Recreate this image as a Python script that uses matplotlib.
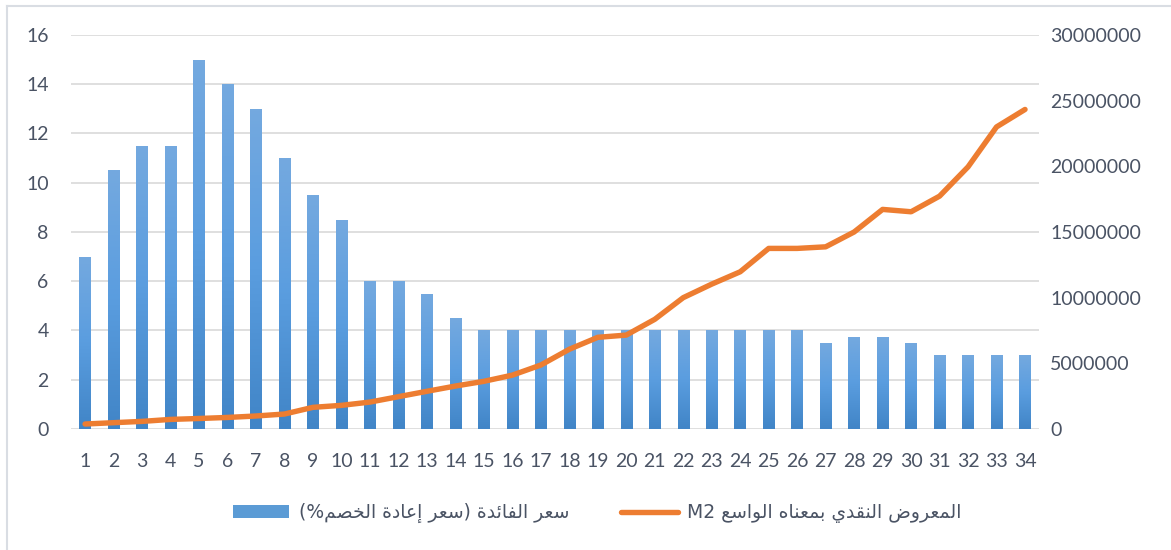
import matplotlib
matplotlib.use('Agg')
import matplotlib.pyplot as plt
import matplotlib.ticker as ticker
from matplotlib.colors import LinearSegmentedColormap
from matplotlib.lines import Line2D
import numpy as np

plt.rcParams['font.family'] = ['Lato', 'DejaVu Sans']

years = [str(i) for i in range(1, 35)]
interest_rate = [7, 10.5, 11.5, 11.5, 15, 14, 13, 11, 9.5, 8.5,
                 6, 6, 5.5, 4.5, 4, 4, 4, 4, 4, 4,
                 4, 4, 4, 4, 4, 4, 3.5, 3.75, 3.75, 3.5,
                 3, 3, 3, 3]
money_supply = [380000, 480000, 580000, 730000, 800000, 880000, 990000, 1140000,
                1650000, 1800000, 2050000, 2460000, 2870000, 3270000, 3630000,
                4100000, 4870000, 6070000, 6980000, 7150000, 8350000, 10000000,
                11030000, 11970000, 13750000, 13750000, 13870000, 15000000,
                16720000, 16540000, 17730000, 19960000, 23000000, 24330000]

label_rate = 'سعر الفائدة (سعر إعادة الخصم%)'
label_m2 = 'المعروض النقدي بمعناه الواسع'

# contextual forms (isolated, final[, initial, medial])
FORMS = {
    'ا': ('\ufe8d', '\ufe8e'), 'إ': ('\ufe87', '\ufe88'),
    'ة': ('\ufe93', '\ufe94'), 'د': ('\ufea9', '\ufeaa'),
    'ر': ('\ufead', '\ufeae'), 'و': ('\ufeed', '\ufeee'),
    'ب': ('\ufe8f', '\ufe90', '\ufe91', '\ufe92'),
    'ئ': ('\ufe89', '\ufe8a', '\ufe8b', '\ufe8c'),
    'خ': ('\ufea5', '\ufea6', '\ufea7', '\ufea8'),
    'س': ('\ufeb1', '\ufeb2', '\ufeb3', '\ufeb4'),
    'ص': ('\ufeb9', '\ufeba', '\ufebb', '\ufebc'),
    'ض': ('\ufebd', '\ufebe', '\ufebf', '\ufec0'),
    'ع': ('\ufec9', '\ufeca', '\ufecb', '\ufecc'),
    'ف': ('\ufed1', '\ufed2', '\ufed3', '\ufed4'),
    'ق': ('\ufed5', '\ufed6', '\ufed7', '\ufed8'),
    'ل': ('\ufedd', '\ufede', '\ufedf', '\ufee0'),
    'م': ('\ufee1', '\ufee2', '\ufee3', '\ufee4'),
    'ن': ('\ufee5', '\ufee6', '\ufee7', '\ufee8'),
    'ه': ('\ufee9', '\ufeea', '\ufeeb', '\ufeec'),
    'ي': ('\ufef1', '\ufef2', '\ufef3', '\ufef4'),
}


def shape_rtl(text):
    out = []
    for i, ch in enumerate(text):
        if ch not in FORMS:
            out.append(ch)
            continue
        f = FORMS[ch]
        prev = text[i - 1] if i > 0 else ''
        nxt = text[i + 1] if i + 1 < len(text) else ''
        join_prev = prev in FORMS and len(FORMS[prev]) == 4
        join_next = len(f) == 4 and nxt in FORMS
        if join_prev and join_next:
            out.append(f[3])
        elif join_prev:
            out.append(f[1])
        elif join_next:
            out.append(f[2])
        else:
            out.append(f[0])
    vis = ''.join(out)[::-1]
    return vis.translate(str.maketrans('()', ')('))


text_col = '#4a5364'

fig = plt.figure(figsize=(11.71, 5.5), dpi=100)
ax = fig.add_axes([0.0605, 0.22, 0.827, 0.7164])
x = np.arange(len(years))

bars = ax.bar(x, interest_rate, width=0.4, color='#5b9bd5', zorder=2,
              label=shape_rtl(label_rate))
cmap = LinearSegmentedColormap.from_list('g', ['#4185c7', '#5a9ddf', '#74a9df'])
grad = np.linspace(0, 1, 100).reshape(-1, 1)
for b in bars:
    x0, w, h = b.get_x(), b.get_width(), b.get_height()
    im = ax.imshow(grad, extent=[x0, x0 + w, 0, h], aspect='auto', cmap=cmap,
                   origin='lower', zorder=3)
    im.set_clip_path(b)

ax.set_xlim(-0.5, len(years) - 0.5)
ax.set_ylim(0, 16)
ax.set_yticks(np.arange(0, 17, 2))
ax.set_xticks(x)
ax.set_xticklabels(years)
ax.grid(axis='y', color='#d9d9d9', linewidth=1.2, zorder=0)
ax.set_axisbelow(True)
for s in ax.spines.values():
    s.set_visible(False)
ax.tick_params(axis='both', length=0, labelsize=14, colors=text_col)
ax.tick_params(axis='y', pad=16)
ax.tick_params(axis='x', pad=17)

ax2 = ax.twinx()
line, = ax2.plot(x, money_supply, color='#ed7d31', linewidth=3.9,
                 solid_capstyle='round', solid_joinstyle='round', zorder=5,
                 label='M2 ' + shape_rtl(label_m2))
ax2.set_ylim(0, 30000000)
ax2.set_yticks(np.arange(0, 30000001, 5000000))
ax2.yaxis.set_major_formatter(ticker.FuncFormatter(lambda v, p: f'{int(v)}'))
for s in ax2.spines.values():
    s.set_visible(False)
ax2.tick_params(axis='y', length=0, labelsize=14, colors=text_col, pad=8)

fig.legend([bars, line], [bars.get_label(), line.get_label()],
           loc='center', bbox_to_anchor=(0.51, 0.067), ncol=2, frameon=False,
           prop={'family': ['DejaVu Sans'], 'size': 13.5}, labelcolor=text_col,
           handlelength=3.0, columnspacing=2.8, handletextpad=0.5)

# chart area border (left and top edges visible)
fig.add_artist(Line2D([7 / 1171, 7 / 1171], [0, 1 - 6 / 550],
                      transform=fig.transFigure, color='#d9dde3', linewidth=1.5))
fig.add_artist(Line2D([7 / 1171, 1], [1 - 6 / 550, 1 - 6 / 550],
                      transform=fig.transFigure, color='#d9dde3', linewidth=1.5))

fig.savefig('out.png', dpi=100, facecolor='white')
